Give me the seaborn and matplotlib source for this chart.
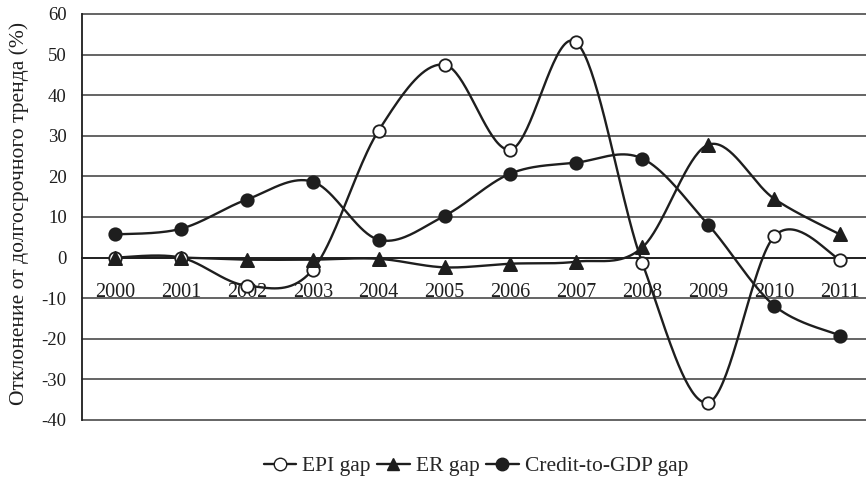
import numpy as np
import pandas as pd
import seaborn as sns
from matplotlib import pyplot as plt
from matplotlib.lines import Line2D

years = ['2000', '2001', '2002', '2003', '2004', '2005', '2006', '2007', '2008', '2009', '2010', '2011']
epi_gap = [0.0, 0.0, -6.9, -3.0, 31.3, 47.5, 26.6, 53.0, -1.3, -35.7, 5.2, -0.5]
er_gap = [0.0, 0.0, -0.5, -0.5, -0.3, -2.4, -1.5, -1.0, 2.5, 27.8, 14.5, 5.7]
credit_gap = [5.7, 7.1, 14.3, 18.7, 4.4, 10.3, 20.7, 23.4, 24.4, 8.1, -11.8, -19.2]

sns.set_style("white")
plt.rcParams['font.family'] = ['Liberation Serif', 'DejaVu Serif']
plt.rcParams['axes.unicode_minus'] = False

INK = '#1e1e1e'


def smooth(vals, n=40):
    # excel-like smoothed line (catmull-rom through the points)
    y = np.asarray(vals, float)
    x = np.arange(len(y), dtype=float)
    xs, ys = [], []
    t = np.linspace(0, 1, n, endpoint=False)
    for i in range(len(y) - 1):
        j0, j3 = max(i - 1, 0), min(i + 2, len(y) - 1)
        for arr, out in ((x, xs), (y, ys)):
            p0, p1, p2, p3 = arr[j0], arr[i], arr[i + 1], arr[j3]
            out.extend(0.5 * (2 * p1 + (-p0 + p2) * t
                              + (2 * p0 - 5 * p1 + 4 * p2 - p3) * t ** 2
                              + (-p0 + 3 * p1 - 3 * p2 + p3) * t ** 3))
    xs.append(x[-1])
    ys.append(y[-1])
    return np.array(xs), np.array(ys)


fig = plt.figure(figsize=(8.66, 4.83), dpi=100)
ax = fig.add_axes([82 / 866, 1 - 420 / 483, (873 - 82) / 866, (420 - 14) / 483])

pos = np.arange(len(years))
series = [
    ('EPI gap', epi_gap, 'o', 'white'),
    ('ER gap', er_gap, '^', INK),
    ('Credit-to-GDP gap', credit_gap, 'o', INK),
]

for name, vals, mk, face in series:
    sx, sy = smooth(vals)
    sns.lineplot(x=sx, y=sy, ax=ax, color=INK, lw=1.7, sort=False, estimator=None, zorder=3)
    df = pd.DataFrame({'x': pos, 'y': vals})
    sns.scatterplot(data=df, x='x', y='y', ax=ax, marker=mk, s=80 if mk == 'o' else 90,
                    color=face, edgecolor=INK, linewidth=1.3, zorder=4)

ax.set_xlim(-0.5, 11.5)
ax.set_ylim(-40, 60)
ax.set_yticks(range(-40, 61, 10))
ax.yaxis.grid(True, color='#3a3a3a', lw=1.1)
for gl in ax.get_ygridlines():
    gl.set_clip_on(False)
ax.set_axisbelow(True)

for s in ['top', 'right']:
    ax.spines[s].set_visible(False)
ax.spines['left'].set_color(INK)
ax.spines['left'].set_linewidth(1.3)
ax.spines['bottom'].set_position(('data', 0))
ax.spines['bottom'].set_color(INK)
ax.spines['bottom'].set_linewidth(1.3)

ax.set_xticks(pos)
ax.set_xticklabels(years)
ax.set_xticks(pos[:-1] + 0.5, minor=True)
ax.tick_params(axis='x', which='major', length=0, pad=18, labelsize=14.5, colors=INK)
ax.tick_params(axis='x', which='minor', length=4, direction='out', color=INK)
ax.tick_params(axis='y', length=0, pad=11, labelsize=13.5, colors=INK)
ax.set_xlabel('')
ax.set_ylabel('Отклонение от долгосрочного тренда (%)', fontsize=15.5, color=INK)
ax.yaxis.set_label_coords(29 / 866, 1 - 213 / 483, transform=fig.transFigure)

handles = [Line2D([], [], color=INK, lw=1.7, marker=mk, markersize=9,
                  markerfacecolor=face, markeredgecolor=INK) for _, _, mk, face in series]
fig.legend(handles, [s[0] for s in series], loc='center', bbox_to_anchor=(476 / 866, 1 - 466 / 483),
           ncol=3, frameon=False, fontsize=15.5, handlelength=1.5, handletextpad=0.3,
           columnspacing=0.3)

fig.savefig('out.png', dpi=100)
